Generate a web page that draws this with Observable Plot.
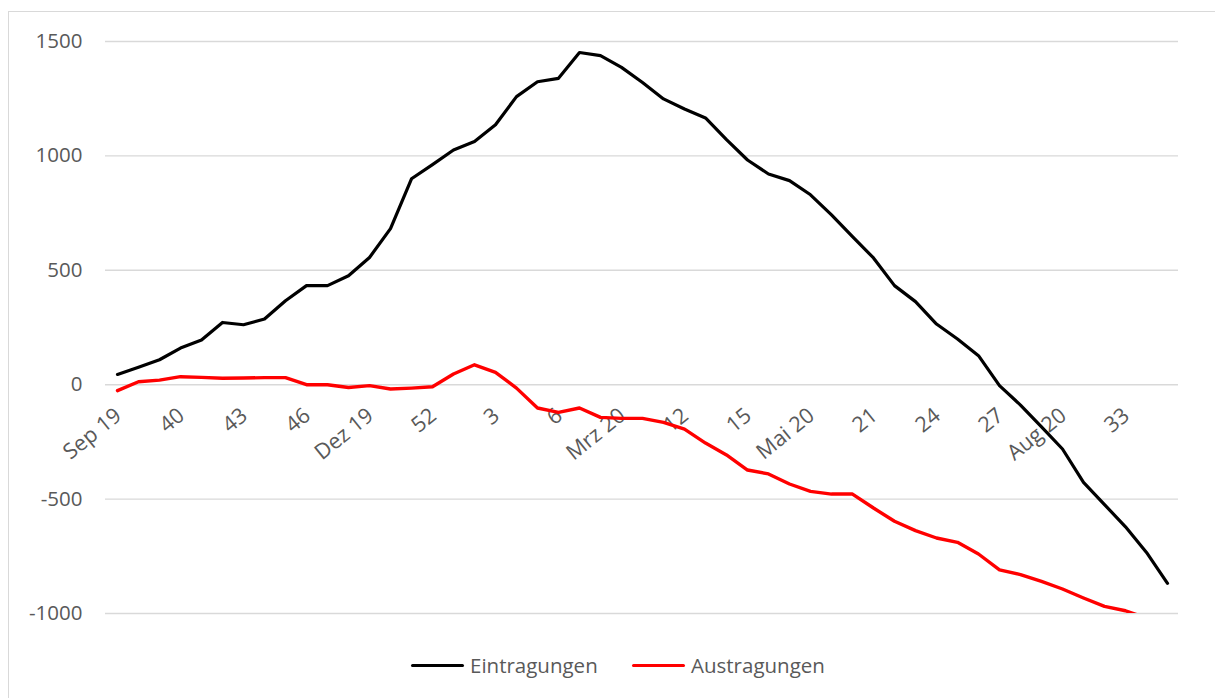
<!DOCTYPE html>
<html>
<head>
<meta charset="utf-8">
<script src="https://cdn.jsdelivr.net/npm/d3@7"></script>
<script src="https://cdn.jsdelivr.net/npm/@observablehq/plot@0.6"></script>
<style>
  html, body { margin: 0; padding: 0; background: #fff; overflow: hidden; }
  body { width: 1215px; height: 698px; position: relative; font-family: "Open Sans", sans-serif; }
  #chart { position: absolute; left: 0; top: 0; }
  #frame { position: absolute; left: 8px; top: 11px; width: 1230px; height: 720px; border: 1px solid #d9d9d9; pointer-events: none; }
  #legend { position: absolute; top: 651px; left: 0; width: 1215px; height: 28px; font-size: 20.5px; color: #595959; }
  .item { position: absolute; top: 0; display: flex; align-items: center; height: 28px; }
  .swatch { display: inline-block; width: 53px; height: 3px; margin-right: 6px; border-radius: 2px; }
</style>
</head>
<body>
<div id="chart"></div>
<div id="legend"></div>
<div id="frame"></div>
<script>
// Calendar weeks (Sep 2019 – Aug 2020); month names replace some week numbers
const weeks = ["Sep 19","38","39","40","41","42","43","44","45","46","47","48","Dez 19","50","51","52",
  "1","2","3","4","5","6","7","8","Mrz 20","10","11","12","13","14","15","16","17","Mai 20",
  "19","20","21","22","23","24","25","26","27","28","29","Aug 20","31","32","33","34","35"];

const eintragungen = [45,76,109,160,195,272,262,287,367,433,433,476,556,682,900,962,1026,1063,1136,1259,
  1324,1339,1452,1438,1387,1321,1249,1205,1166,1071,982,921,892,830,742,647,554,433,363,265,200,127,
  -4,-89,-184,-281,-427,-524,-621,-733,-868];

const austragungen = [-26,13,20,35,32,28,29,31,31,0,0,-12,-4,-19,-15,-9,47,87,54,-15,-102,-121,-102,
  -143,-147,-147,-165,-194,-255,-307,-373,-390,-434,-466,-478,-478,-539,-597,-638,-670,-689,-740,
  -809,-830,-860,-893,-932,-969,-988,-1020,-1060];

const yTicks = [-1000, -500, 0, 500, 1000, 1500];
const shownLabels = weeks.filter((w, i) => i % 3 === 0);

const seriesNames = ["Eintragungen", "Austragungen"];
const seriesColors = ["#000000", "#ff0000"];

const einRows = weeks.map((w, i) => ({week: w, value: eintragungen[i]}));
const ausRows = weeks.map((w, i) => ({week: w, value: austragungen[i]}));

const chart = Plot.plot({
  width: 1215,
  height: 640,
  marginLeft: 105,
  marginRight: 37,
  marginTop: 41,
  marginBottom: 27,
  style: {background: "transparent", fontFamily: "Open Sans, sans-serif", fontSize: "20.5px", color: "#595959"},
  x: {type: "point", domain: weeks, padding: 0.5, axis: null},
  y: {domain: [-1000, 1500], ticks: yTicks, tickSize: 0, tickPadding: 23, label: null, tickFormat: d => String(d).replace("−", "-")},
  marks: [
    Plot.ruleY(yTicks, {stroke: "#d9d9d9", strokeWidth: 1.4}),
    Plot.text(shownLabels, {x: d => d, y: () => 0, text: d => d, rotate: -39, textAnchor: "end",
      dx: 1, dy: 28, fontSize: 21.5, fill: "#595959"}),
    Plot.line(einRows, {x: "week", y: "value", stroke: seriesColors[0], strokeWidth: 3.2, clip: true}),
    Plot.line(ausRows, {x: "week", y: "value", stroke: seriesColors[1], strokeWidth: 3.4, clip: true})
  ]
});
document.getElementById("chart").appendChild(chart);

// Legend
const legend = document.getElementById("legend");
const legendX = [411, 632];
seriesNames.forEach((name, i) => {
  const item = document.createElement("div");
  item.className = "item";
  item.style.left = legendX[i] + "px";
  const sw = document.createElement("span");
  sw.className = "swatch";
  sw.style.background = seriesColors[i];
  const label = document.createElement("span");
  label.textContent = name;
  item.appendChild(sw);
  item.appendChild(label);
  legend.appendChild(item);
});
</script>
</body>
</html>
